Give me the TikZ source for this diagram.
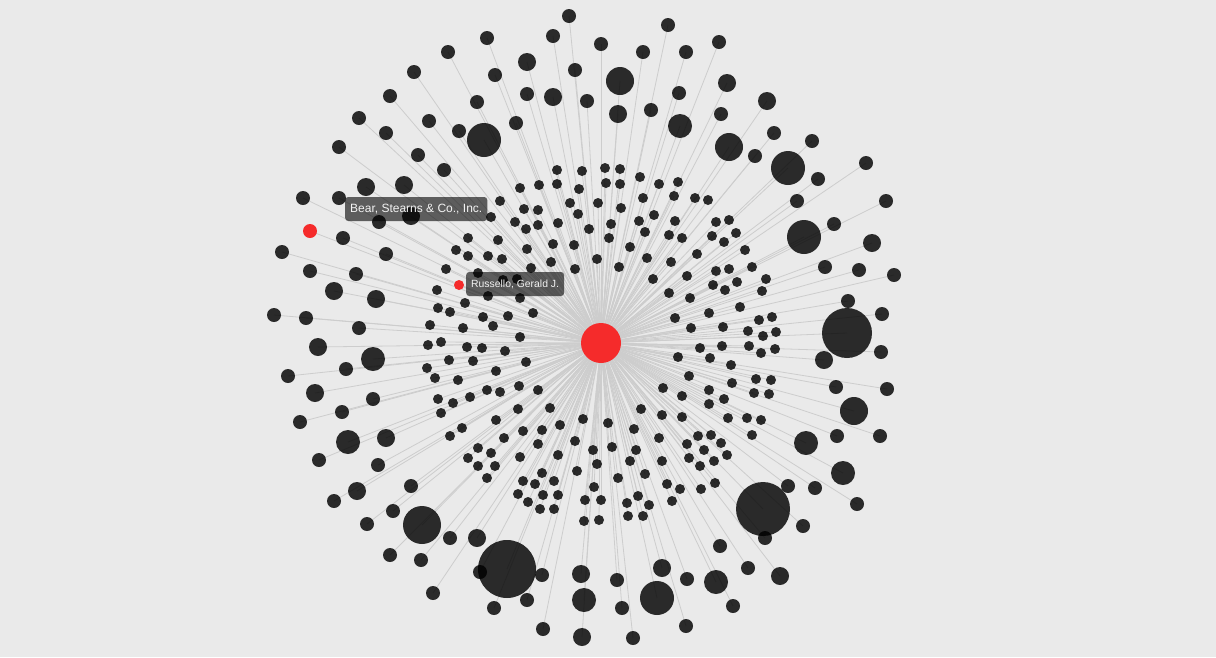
\documentclass[tikz,border=0pt]{standalone}
\usepackage{fontspec}
\setmainfont{Liberation Sans}
\pgfdeclarelayer{bg}
\pgfdeclarelayer{edges}
\pgfsetlayers{bg,edges,main}
\definecolor{bgc}{HTML}{EAEAEA}
\definecolor{edgec}{HTML}{CDCDCD}
\definecolor{redc}{RGB}{245,43,43}
\definecolor{lbltext}{HTML}{F2F2F2}
\tikzset{
  nd/.style={circle, inner sep=0pt, draw=none, fill=black, fill opacity=0.82},
  rd/.style={circle, inner sep=0pt, draw=none, fill=redc},
  edge/.style={draw=edgec, line width=0.8pt},
  lbl/.style={rounded corners=3pt, fill=black, fill opacity=0.6, text opacity=1, text=lbltext, inner xsep=5pt, inner ysep=0pt, minimum height=24pt, anchor=west}
}
\def\nodelist{
448/52/7, 414/72/7, 390/96/7, 359/118/7, 429/121/7, 386/133/7, 459/131/7, 339/147/7, 418/155/7, 444/170/7, 366/187/9, 404/185/9, 303/198/7, 339/198/7, 484/140/17, 411/216/9, 379/222/7,
569/16/7, 487/38/7, 553/36/7, 601/44/7, 668/25/7, 643/52/7, 686/52/7, 527/62/9, 575/70/7, 495/75/7, 620/81/14, 679/93/7, 527/94/7, 553/97/9, 587/101/7, 477/102/7, 651/110/7, 618/114/9, 516/123/7, 680/126/12,
557/170/5, 582/171/5, 605/168/5, 620/169/5, 640/177/5, 539/185/5, 557/184/5, 606/183/5, 620/184/5, 659/184/5, 678/182/5, 520/188/5, 579/189/5, 643/198/5, 674/196/5, 500/201/5, 570/203/5, 598/203/5, 524/209/5, 538/210/5, 578/214/5, 621/208/5, 654/215/5, 491/217/5,
719/42/7, 727/83/9, 767/101/9, 721/114/7, 774/133/7, 812/141/7, 729/147/14, 755/156/7, 788/168/17, 866/163/7, 818/179/7, 797/201/7, 886/201/7, 695/198/5, 708/200/5, 716/222/5, 729/220/5, 834/224/7,
343/238/7, 386/254/7, 282/252/7, 310/271/7, 356/274/7, 334/291/9, 376/299/9, 274/315/7, 306/318/7, 359/328/7, 318/347/9, 373/359/12, 346/369/7, 288/376/7, 315/393/9, 373/399/7, 342/412/7, 300/422/7,
468/238/5, 456/250/5, 468/256/5, 446/269/5, 437/290/5, 465/303/5, 438/308/5, 450/312/5, 430/325/5, 463/328/5, 428/345/5, 441/342/5, 467/347/5, 427/368/5, 449/360/5, 473/361/5, 435/378/5, 458/380/5, 438/399/5, 453/403/5, 470/397/5, 441/413/5, 462/428/5, 450/436/5,
515/222/5, 526/229/5, 538/225/5, 558/223/5, 589/229/5, 611/224/5, 609/238/5, 639/221/5, 645/232/5, 669/235/5, 682/238/5, 675/221/5, 498/240/5, 527/249/5, 553/244/5, 574/245/5, 630/247/5, 488/256/5, 502/259/5, 551/262/5, 597/259/5, 647/258/5, 671/262/5, 619/267/5, 531/268/5, 575/269/5, 653/279/5, 687/276/5, 478/273/5, 503/280/5, 517/279/5, 488/296/5, 520/298/5, 669/293/5, 690/298/5, 533/313/5, 483/317/5, 508/316/5, 493/326/5, 675/318/5, 691/328/5, 520/337/5, 482/348/5, 505/351/5, 526/362/5, 678/357/5, 496/371/5, 689/376/5, 519/386/5, 487/390/5, 500/392/5, 538/390/5, 663/388/5, 682/396/5, 550/408/5, 641/409/5, 518/409/5, 496/420/5, 583/419/5, 608/423/5, 662/415/5, 560/425/5, 523/431/5, 542/430/5, 634/429/5, 682/417/5, 504/438/5, 575/441/5, 659/438/5,
804/237/17, 872/243/9, 712/236/5, 736/233/5, 724/242/5, 745/250/5, 697/254/5, 825/267/7, 859/270/7, 894/275/7, 716/271/5, 729/269/5, 752/267/5, 766/279/5, 713/285/5, 725/290/5, 737/282/5, 762/291/5, 848/301/7, 709/313/5, 740/307/5, 759/320/5, 772/317/5, 723/327/5, 748/331/5, 763/336/5, 776/332/5, 847/333/25, 882/314/7, 700/348/5, 722/346/5, 749/346/5, 761/353/5, 775/349/5, 824/360/9, 881/352/7, 710/358/5, 731/365/5, 836/387/7, 887/389/7, 709/390/5, 732/383/5, 756/379/5, 771/380/5, 754/393/5, 769/394/5, 724/399/5, 709/404/5, 854/411/14, 728/418/5, 747/418/5, 761/420/5, 698/436/5, 711/435/5, 752/435/5, 806/443/12, 837/436/7, 880/436/7,
348/442/12, 386/438/9, 319/460/7, 378/465/7, 357/491/9, 411/486/7, 334/501/7, 393/511/7, 422/525/19, 367/524/7, 450/538/7, 390/555/7, 421/560/7, 433/593/7, 468/458/5,
478/448/5, 491/453/5, 478/466/5, 495/466/5, 487/478/5, 538/444/5, 520/457/5, 558/455/5, 593/450/5, 612/447/5, 636/450/5, 687/444/5, 542/473/5, 523/481/5, 535/484/5, 554/481/5, 577/471/5, 597/464/5, 630/461/5, 662/461/5, 689/458/5, 618/478/5, 645/474/5, 518/494/5, 543/495/5, 558/495/5, 594/487/5, 528/502/5, 585/500/5, 601/500/5, 638/496/5, 667/484/5, 680/489/5, 627/503/5, 649/505/5, 672/501/5, 540/509/5, 554/509/5, 628/516/5, 643/516/5, 584/521/5, 599/520/5,
477/538/9, 507/569/29, 480/572/7, 542/575/7, 527/600/7, 494/608/7, 543/629/7, 581/574/9, 584/600/12, 582/637/9, 617/580/7, 622/608/7, 633/638/7, 662/568/9, 657/598/17, 687/579/7, 686/626/7,
843/473/12, 857/504/7, 763/509/27, 788/486/7, 815/488/7, 803/526/7, 765/538/7, 720/546/7, 748/568/7, 780/576/9, 716/582/12, 733/606/7,
721/443/5, 704/450/5, 727/455/5, 714/461/5, 700/466/5, 715/483/5, 701/489/5}
\begin{document}
\begin{tikzpicture}[x=1pt,y=-1pt]
\path[use as bounding box] (0,0) rectangle (1216,657);
\begin{pgfonlayer}{bg}
\fill[bgc] (0,0) rectangle (1216,657);
\end{pgfonlayer}
\node[rd, minimum size=40pt] (c) at (601,343) {};
\foreach \x/\y/\r [count=\i] in \nodelist {
  \node[nd, minimum size=\r*2pt] (n\i) at (\x,\y) {};
}
\node[rd, minimum size=14pt] (bear) at (310,231) {};
\node[rd, minimum size=10pt] (russ) at (459,285) {};
\begin{pgfonlayer}{edges}
\foreach \x/\y/\r [count=\i] in \nodelist {
  \draw[edge] (c.center) -- (n\i.center);
}
\draw[edge] (c.center) -- (bear.center);
\draw[edge] (c.center) -- (russ.center);
\end{pgfonlayer}
\node[lbl, font=\fontsize{12}{14}\selectfont] (lbear) at (345,209) {Bear, Stearns \& Co., Inc.};
\node[lbl, font=\fontsize{10.4}{12}\selectfont] (lruss) at (466,284) {Russello, Gerald J.};
\end{tikzpicture}
\end{document}
